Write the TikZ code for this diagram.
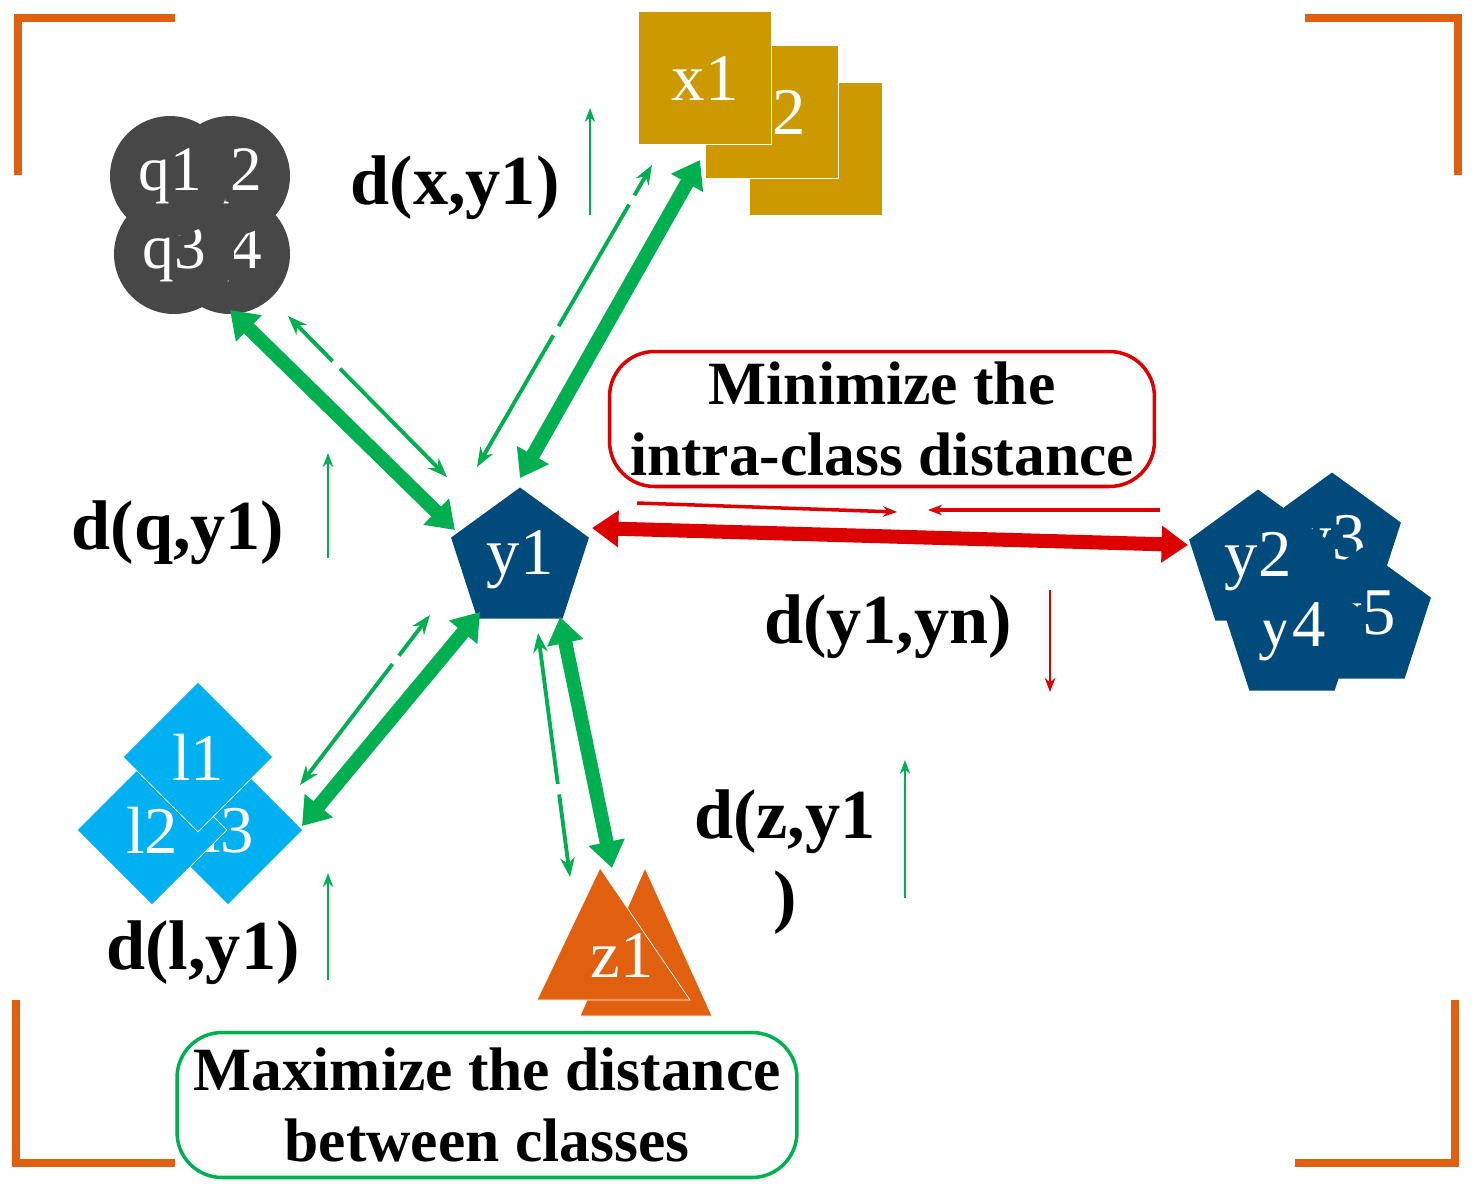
\documentclass[tikz,border=0pt]{standalone}
\usepackage{fontspec}
\setmainfont{Liberation Serif}
\usetikzlibrary{positioning, arrows.meta, shapes}
\definecolor{corange}{HTML}{E06010}
\definecolor{cblue}{HTML}{004A7C}
\definecolor{cgold}{HTML}{CC9900}
\definecolor{cgray}{HTML}{474747}
\definecolor{csky}{HTML}{00B0F0}
\definecolor{cgreen}{HTML}{00B050}
\definecolor{cred}{HTML}{DD0000}

\begin{document}
\begin{tikzpicture}[
    x=0.02cm, y=-0.02cm,
    % Styles
    pent/.style={% pentagons
        regular polygon, regular polygon sides=5,
        fill=cblue, minimum size=2.9cm, inner sep=0pt,
        text=white, font=\fontsize{38}{40}\selectfont,
        },
    sq/.style={% squares
        rectangle, fill=cgold, draw=white, thin,
        minimum size=2.65cm, text=white,
        font=\fontsize{38}{40}\selectfont,
        },
    circ/.style={% circles
        circle, fill=cgray, minimum size=2.4cm,
        text=white, font=\fontsize{36}{40}\selectfont,
        },
    dia/.style={% diamonds
        diamond, fill=csky, draw=white, thin,
        minimum size=3cm, inner sep=0pt, text=white,
        font=\fontsize{38}{40}\selectfont,
        },
    dlabel/.style={% distance labels
        font=\fontsize{40}{46}\selectfont\bfseries, align=center,
        },
    box/.style={% text boxes
        rectangle, rounded corners=9mm, line width=2pt,
        font=\fontsize{35}{40}\selectfont\bfseries, align=center,
        inner sep=2pt,
        },
    bracket/.style={corange, line width=5pt},
    Big/.style={% thick two-way arrows
        cgreen, line width=8pt,
        {Triangle[width=20pt,length=15pt]}-{Triangle[width=20pt,length=15pt]},
        },
    Thin/.style={% thin dashed two-way arrows
        cgreen, line width=2.2pt, dash pattern=on 80pt off 6pt,
        {Stealth[length=11pt]}-{Stealth[length=11pt]},
        },
    Small/.style={line width=1pt, -{Stealth[length=8pt]}},
    ]
\useasboundingbox (0,0) rectangle (1475,1194);

% corner brackets
\draw[bracket] (18,175) -- (18,18) -- (175,18);
\draw[bracket] (1305,18) -- (1458,18) -- (1458,175);
\draw[bracket] (16,1000) -- (16,1163) -- (175,1163);
\draw[bracket] (1455,1000) -- (1455,1163) -- (1295,1163);

% centre class
\node[pent] (y1) at (520,560) {y1};

% class y
\node[pent] (y3) at (1332,545) {y3};
\node[pent] (y5) at (1362,620) {y5};
\node[pent] (y4) at (1292,632) {y4};
\node[pent] (y2) at (1258,562) {y2};

% class x
\node[sq] (x3) at (816,149) {};
\node[sq] (x2) at (772,112) {x2};
\node[sq] (x1) at (705,78) {x1};

% class q
\node[circ] (q4) at (230,254) {q4};
\node[circ] (q3) at (174,254) {q3};
\node[circ] (q2) at (230,176) {q2};
\node[circ] (q1) at (170,176) {q1};

% class l
\node[dia] (l3) at (228,830) {l3};
\node[dia] (l2) at (152,830) {l2};
\node[dia] (l1) at (198,757) {l1};

% class z
\fill[corange, draw=white] (645,868) -- (712,1016) -- (580,1016) -- cycle;
\fill[corange, draw=white] (600,868) -- (690,1000) -- (537,1000) -- cycle;
\node[text=white, font=\fontsize{38}{40}\selectfont] (z1) at (622,955) {z1};

% anchor points
\coordinate (qa) at (455,530); \coordinate (qb) at (230,310);
\coordinate (qc) at (447,477); \coordinate (qd) at (288,316);
\coordinate (xa) at (520,478); \coordinate (xb) at (700,160);
\coordinate (xc) at (477,467); \coordinate (xd) at (652,165);
\coordinate (la) at (302,826); \coordinate (lb) at (480,612);
\coordinate (lc) at (300,785); \coordinate (ld) at (430,615);
\coordinate (za) at (560,617); \coordinate (zb) at (612,868);
\coordinate (zc) at (538,633); \coordinate (zd) at (570,877);
\coordinate (ya) at (592,528); \coordinate (yb) at (1188,545);

% distances between classes
\draw[Big] (qa) -- (qb);
\draw[Thin] (qc) -- (qd);
\draw[Big] (xa) -- (xb);
\draw[Thin] (xc) -- (xd);
\draw[Big] (la) -- (lb);
\draw[Thin] (lc) -- (ld);
\draw[Big] (za) -- (zb);
\draw[Thin] (zc) -- (zd);

% distance inside class
\draw[cred, line width=8pt,
    {Triangle[width=20pt,length=15pt]}-{Triangle[width=20pt,length=15pt]}] (ya) -- (yb);
\coordinate (ra) at (637,503); \coordinate (rb) at (897,512);
\coordinate (rc) at (1160,510); \coordinate (rd) at (928,510);
\draw[Small, cred, line width=2pt] (ra) -- (rb);
\draw[Small, cred, line width=2pt] (rc) -- (rd);

% small trend arrows
\coordinate (s1) at (590,215); \coordinate (e1) at (590,108);
\coordinate (s2) at (328,558); \coordinate (e2) at (328,453);
\coordinate (s3) at (328,980); \coordinate (e3) at (328,873);
\coordinate (s4) at (905,898); \coordinate (e4) at (905,760);
\coordinate (s5) at (1050,590); \coordinate (e5) at (1050,692);
\draw[Small, cgreen] (s1) -- (e1);
\draw[Small, cgreen] (s2) -- (e2);
\draw[Small, cgreen] (s3) -- (e3);
\draw[Small, cgreen] (s4) -- (e4);
\draw[Small, cred] (s5) -- (e5);

% labels
\node[dlabel] (dx) at (455,188) {d(x,y1)};
\node[dlabel] (dq) at (178,533) {d(q,y1)};
\node[dlabel] (dy) at (888,627) {d(y1,yn)};
\node[dlabel] (dz) at (785,862) {d(z,y1\\)};
\node[dlabel] (dl) at (203,953) {d(l,y1)};

% boxes
\node[box, draw=cred, minimum width=10.9cm, minimum height=2.7cm] (mini) at (882,419)
    {Minimize the\\intra-class distance};
\node[box, draw=cgreen, minimum width=12.4cm, minimum height=2.9cm] (maxi) at (487,1105)
    {Maximize the distance\\between classes};
\end{tikzpicture}
\end{document}
